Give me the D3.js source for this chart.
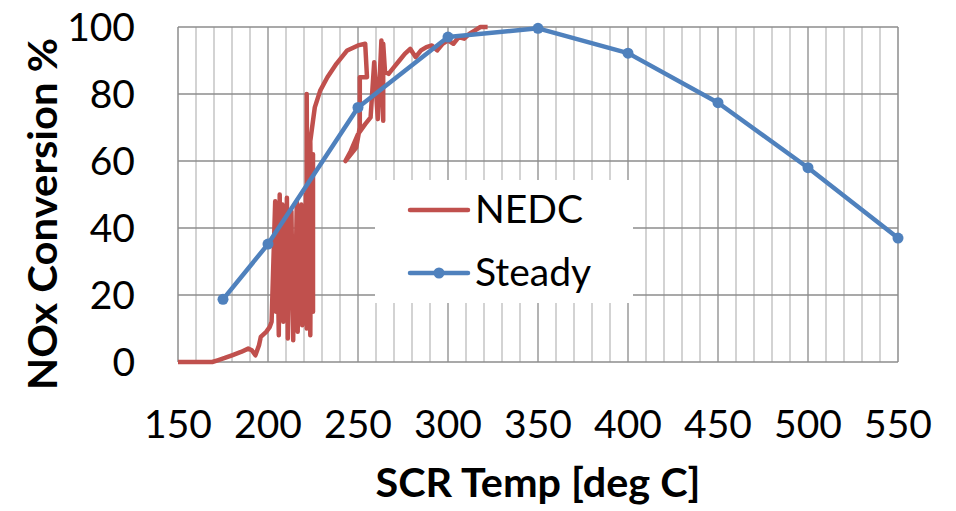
<!DOCTYPE html>
<html>
<head>
<meta charset="utf-8">
<script src="https://cdn.jsdelivr.net/npm/d3@7"></script>
<style>
  body { margin: 0; background: #fff; }
  text { font-family: Lato, "Open Sans", sans-serif; fill: #000; }
</style>
</head>
<body>
<div id="chart"></div>
<script>
// steady state points [deg C, %]
var steadyTemp = [175, 200, 250, 300, 350, 400, 450, 500, 550];
var steadyConv = [18.7, 35.2, 76, 97, 99.6, 92.2, 77.4, 58, 37];

// NEDC trace, in drawing order
var nedcTemp = [150, 160, 169, 172, 176, 180, 185, 189, 191, 193, 195, 196, 199, 201,
  202, 203, 204, 204.5, 205, 206, 206.5, 207, 208, 208.5, 209, 210, 210.5, 211, 212,
  212.5, 213, 214, 214.5, 215, 216, 216.5, 217, 218, 218.5, 219, 220, 220.5, 221,
  221.5, 221.5, 222, 222.5, 223, 223, 223.5, 224, 224, 224.5, 225, 225, 224, 223.5,
  226, 229, 233, 238, 244, 250, 254, 255, 251, 251, 249, 243, 246, 250, 254, 257, 259,
  261, 263, 264, 264, 265, 267, 270, 273, 276, 279, 282, 285, 288, 291, 294, 297, 300,
  303, 306, 309, 312, 315, 318, 322];
var nedcConv = [0, 0, 0, 0.5, 1.2, 2, 3, 4, 3.5, 2, 5, 7.5, 9, 10.5,
  12, 30, 48, 15, 44, 8, 50, 22, 47, 12, 46, 28, 49, 7, 40,
  18, 45, 6.5, 36, 14, 48, 9, 42, 26, 47, 11, 45, 20, 50,
  10, 80, 12, 42, 20, 55, 8, 58, 25, 60, 15, 62, 40, 66,
  76, 81, 85, 89, 93, 94.5, 95, 85, 85, 70, 64, 60, 63, 68, 71, 73, 89.5,
  72.5, 96, 72, 95, 86.6, 86, 88, 90, 92, 93.5, 91, 93, 94, 94.5, 93, 95, 96,
  95, 97, 96.5, 98, 99, 100, 100];

var xTicks = [150, 200, 250, 300, 350, 400, 450, 500, 550];
var yTicks = [0, 20, 40, 60, 80, 100];

var red = "#C0504D", blue = "#4F81BD";

var svg = d3.select("#chart").append("svg")
  .attr("width", 956)
  .attr("height", 511);

svg.append("rect").attr("width", 956).attr("height", 511).attr("fill", "#fff");

var x = d3.scaleLinear().domain([150, 550]).range([178, 898]);
var y = d3.scaleLinear().domain([0, 100]).range([362, 27]);

// vertical gridlines every 10 deg, darker every 50
var grid = svg.append("g");
grid.selectAll("line.v").data(d3.range(160, 550, 10)).enter()
  .append("line")
  .attr("x1", d => x(d)).attr("x2", d => x(d))
  .attr("y1", y(0)).attr("y2", y(100))
  .attr("stroke", d => d % 50 == 0 ? "#9a9a9a" : "#c4c4c4")
  .attr("stroke-width", 1.5);

grid.selectAll("line.h").data(yTicks).enter()
  .append("line")
  .attr("x1", x(150)).attr("x2", x(550))
  .attr("y1", d => y(d)).attr("y2", d => y(d))
  .attr("stroke", "#8c8c8c")
  .attr("stroke-width", 1.5);

// plot border
svg.append("line").attr("x1", x(150)).attr("x2", x(150)).attr("y1", y(0)).attr("y2", y(100))
  .attr("stroke", "#8c8c8c").attr("stroke-width", 1.5);
svg.append("line").attr("x1", x(550)).attr("x2", x(550)).attr("y1", y(0)).attr("y2", y(100))
  .attr("stroke", "#8c8c8c").attr("stroke-width", 1.5);

// tick labels
svg.append("g").selectAll("text").data(xTicks).enter()
  .append("text")
  .attr("x", d => x(d)).attr("y", 438)
  .attr("text-anchor", "middle")
  .attr("font-size", "39px")
  .text(d => d);

svg.append("g").selectAll("text").data(yTicks).enter()
  .append("text")
  .attr("x", 135).attr("y", d => y(d))
  .attr("dy", "0.36em")
  .attr("text-anchor", "end")
  .attr("font-size", "39px")
  .text(d => d);

// axis titles
svg.append("text")
  .attr("x", 538).attr("y", 497)
  .attr("text-anchor", "middle")
  .attr("font-size", "40px").attr("font-weight", "bold")
  .attr("textLength", 325).attr("lengthAdjust", "spacingAndGlyphs")
  .text("SCR Temp [deg C]");

svg.append("text")
  .attr("transform", "translate(57,214) rotate(-90)")
  .attr("text-anchor", "middle")
  .attr("font-size", "40px").attr("font-weight", "bold")
  .attr("textLength", 352).attr("lengthAdjust", "spacingAndGlyphs")
  .text("NOx Conversion %");

// series
var nedc = nedcTemp.map((t, i) => [t, nedcConv[i]]);
var steady = steadyTemp.map((t, i) => [t, steadyConv[i]]);

var line = d3.line().x(d => x(d[0])).y(d => y(d[1]));

svg.append("path").datum(nedc)
  .attr("d", line)
  .attr("fill", "none")
  .attr("stroke", red)
  .attr("stroke-width", 4.5)
  .attr("stroke-linejoin", "round");

svg.append("path").datum(steady)
  .attr("d", line)
  .attr("fill", "none")
  .attr("stroke", blue)
  .attr("stroke-width", 4.5)
  .attr("stroke-linejoin", "round");

svg.append("g").selectAll("circle").data(steady).enter()
  .append("circle")
  .attr("cx", d => x(d[0])).attr("cy", d => y(d[1]))
  .attr("r", 5.5)
  .attr("fill", blue);

// legend
var legend = svg.append("g");
legend.append("rect")
  .attr("x", 375).attr("y", 180).attr("width", 258).attr("height", 123)
  .attr("fill", "#fff");

legend.append("line").attr("x1", 410).attr("x2", 468).attr("y1", 210).attr("y2", 210)
  .attr("stroke", red).attr("stroke-width", 4.5).attr("stroke-linecap", "round");
legend.append("text").attr("x", 475).attr("y", 223).attr("font-size", "39px").text("NEDC");

legend.append("line").attr("x1", 410).attr("x2", 468).attr("y1", 273).attr("y2", 273)
  .attr("stroke", blue).attr("stroke-width", 4.5).attr("stroke-linecap", "round");
legend.append("circle").attr("cx", 439).attr("cy", 273).attr("r", 5.5).attr("fill", blue);
legend.append("text").attr("x", 475).attr("y", 286).attr("font-size", "39px").text("Steady");
</script>
</body>
</html>
